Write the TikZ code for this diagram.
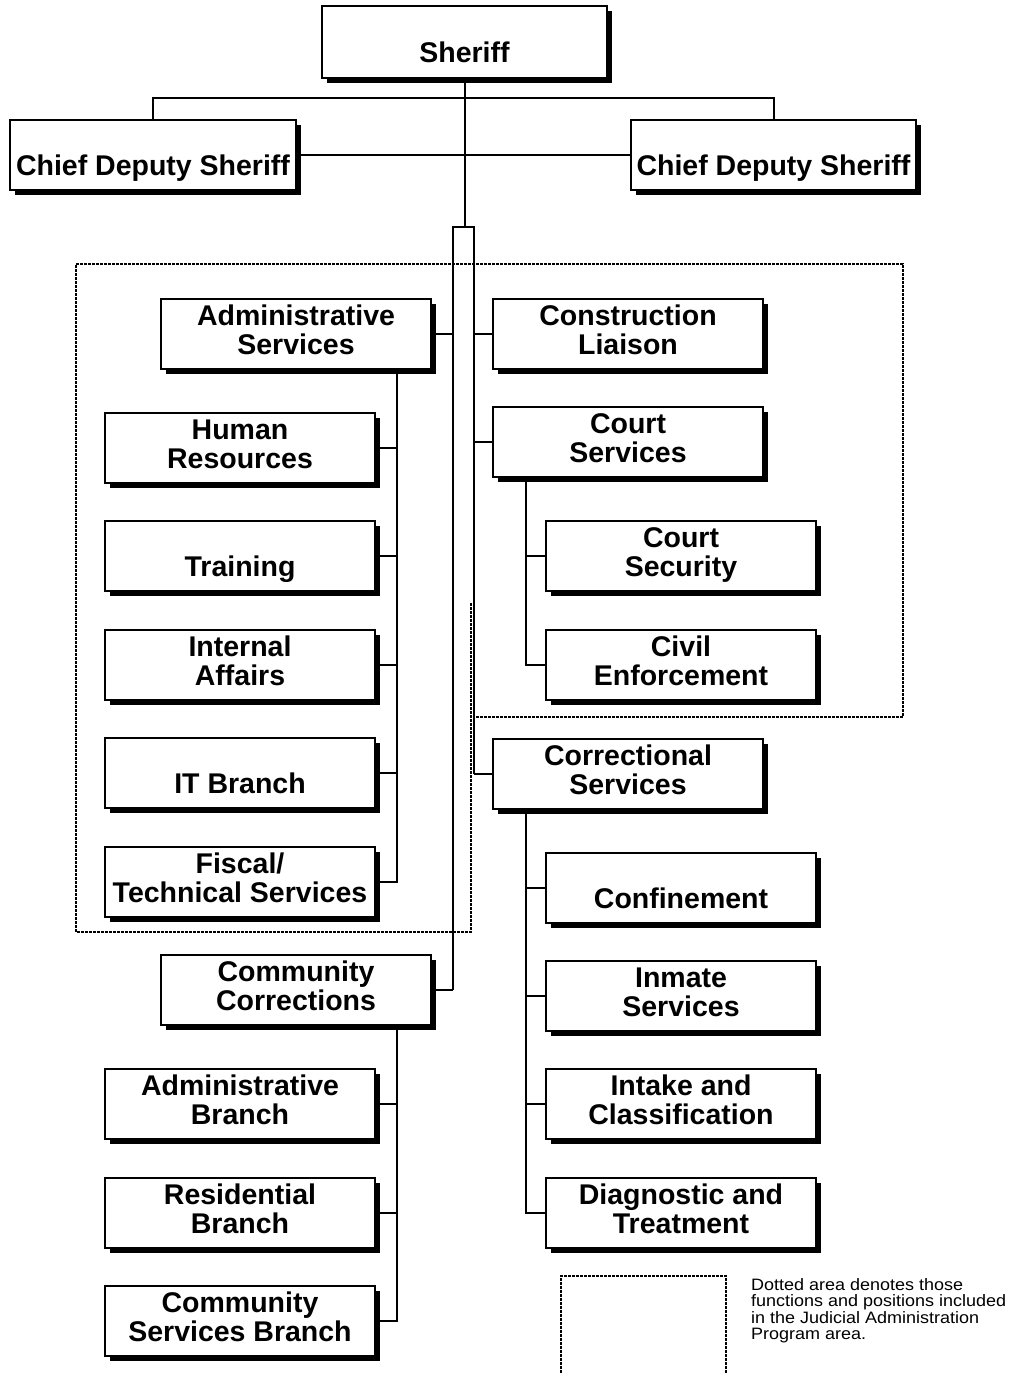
\documentclass[tikz,border=0pt]{standalone}
\usepackage{fontspec}
\setmainfont{Liberation Sans}
\newfontfamily\legendfont{Liberation Sans}[FakeStretch=1.09]
\usetikzlibrary{shadows}

% struts that fix the two text lines of every box
\newcommand\ltop{\rule{0pt}{21pt}}
\newcommand\lbot{\rule[-9.5pt]{0pt}{9.5pt}}
\newcommand\boxtext[2]{\ltop#1\\#2\lbot}

\tikzset{
  orgbox/.style={draw, line width=1.7pt, fill=white, anchor=north west,
    minimum width=270pt, minimum height=70pt, inner sep=0pt, outer sep=0pt,
    align=center, font=\fontsize{28.5}{29.5}\selectfont\bfseries,
    drop shadow={shadow xshift=4.5pt, shadow yshift=-4.5pt, fill=black, opacity=1}},
  link/.style={line width=2pt},
  area/.style={line width=1.6pt, dash pattern=on 3pt off 1pt},
}

\begin{document}
\begin{tikzpicture}[x=1pt, y=-1pt]
\useasboundingbox (0,0) rectangle (1013,1373);

% command level
\node[orgbox, minimum width=285pt, minimum height=72pt] (sh) at (322,6) {\boxtext{}{Sheriff}};
\node[orgbox, minimum width=286pt] (cdl) at (10,120) {\boxtext{}{Chief Deputy Sheriff}};
\node[orgbox, minimum width=285pt] (cdr) at (631,120) {\boxtext{}{Chief Deputy Sheriff}};

% left column
\node[orgbox] (as)  at (161,299)  {\boxtext{Administrative}{Services}};
\node[orgbox] (hr)  at (105,413)  {\boxtext{Human}{Resources}};
\node[orgbox] (tr)  at (105,521)  {\boxtext{}{Training}};
\node[orgbox] (ia)  at (105,630)  {\boxtext{Internal}{Affairs}};
\node[orgbox] (it)  at (105,738)  {\boxtext{}{IT Branch}};
\node[orgbox] (ft)  at (105,847)  {\boxtext{Fiscal/}{Technical Services}};
\node[orgbox] (cc)  at (161,955)  {\boxtext{Community}{Corrections}};
\node[orgbox] (ab)  at (105,1069) {\boxtext{Administrative}{Branch}};
\node[orgbox] (rb)  at (105,1178) {\boxtext{Residential}{Branch}};
\node[orgbox] (sb)  at (105,1286) {\boxtext{Community}{Services Branch}};

% right column
\node[orgbox] (cl)  at (493,299)  {\boxtext{Construction}{Liaison}};
\node[orgbox] (cs)  at (493,407)  {\boxtext{Court}{Services}};
\node[orgbox] (sec) at (546,521)  {\boxtext{Court}{Security}};
\node[orgbox] (civ) at (546,630)  {\boxtext{Civil}{Enforcement}};
\node[orgbox] (cor) at (493,739)  {\boxtext{Correctional}{Services}};
\node[orgbox] (con) at (546,853)  {\boxtext{}{Confinement}};
\node[orgbox] (ins) at (546,961)  {\boxtext{Inmate}{Services}};
\node[orgbox] (ic)  at (546,1069) {\boxtext{Intake and}{Classification}};
\node[orgbox] (dt)  at (546,1178) {\boxtext{Diagnostic and}{Treatment}};

% junction points
\coordinate (bar)  at (464,98);
\coordinate (chTL) at (453,227);
\coordinate (chTR) at (474,227);
\coordinate (chBL) at (453,990);
\coordinate (chBR) at (474,774);
\coordinate (aTop) at (397,370);
\coordinate (cTop) at (526,477);
\coordinate (rTop) at (526,809);
\coordinate (mTop) at (397,1025);

% links from the top
\draw[link] (cdl.north) |- (bar) -| (cdr.north);
\draw[link] (cdl.east) -- (cdr.west);
\draw[link] (sh.south) -- (sh.south |- chTL);

% the double trunk
\draw[link] (chBL) -- (chTL) -- (chTR) -- (chBR);
\draw[link] (chBL) -- (cc.east);
\draw[link] (chBR) -- (cor.west);
\draw[link] (as.east) -- (as.east -| chBL);
\draw[link] (cl.west) -- (cl.west -| chBR);
\draw[link] (cs.west) -- (cs.west -| chBR);

% branches
\draw[link] (aTop) |- (ft.east);
\foreach \n in {hr,tr,ia,it} \draw[link] (\n.east) -- (\n.east -| aTop);
\draw[link] (cTop) |- (civ.west);
\draw[link] (sec.west) -- (sec.west -| cTop);
\draw[link] (rTop) |- (dt.west);
\foreach \n in {con,ins,ic} \draw[link] (\n.west) -- (\n.west -| rTop);
\draw[link] (mTop) |- (sb.east);
\foreach \n in {ab,rb} \draw[link] (\n.east) -- (\n.east -| mTop);

% dotted area
\draw[area] (471,603) -- (471,932) -- (76,932) -- (76,264) -- (903,264) -- (903,717) -- (474,717);

% key
\draw[area] (561,1373) -- (561,1276) -- (726,1276) -- (726,1373);
\node[anchor=north west, inner sep=0pt, align=left,
  font=\legendfont\fontsize{16.5}{16.5}\selectfont] (key) at (751,1278)
  {\rule{0pt}{12pt}Dotted area denotes those\\functions and positions included\\in the Judicial Administration\\Program area.};
\end{tikzpicture}
\end{document}
